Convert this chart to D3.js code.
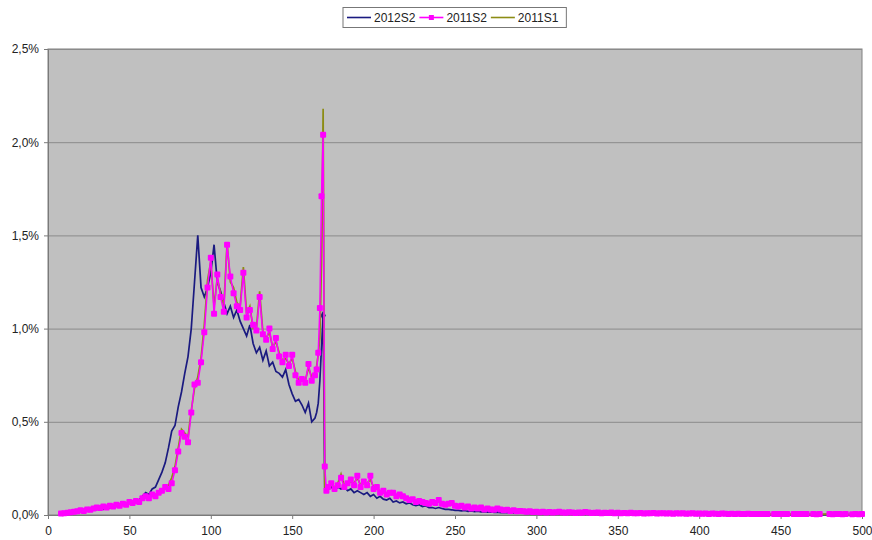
<!DOCTYPE html>
<html>
<head>
<meta charset="utf-8">
<script src="https://cdn.jsdelivr.net/npm/d3@7"></script>
<style>
  body { margin: 0; background: #fff; }
  svg { display: block; font-family: "Liberation Sans", Arial, sans-serif; }
</style>
</head>
<body>
<div id="chart"></div>
<script>
// x positions shared by all three series
const positions = [
  8, 10, 12, 14, 16, 18, 20, 22, 24, 26, 28, 30, 32, 34, 36, 38, 40, 42, 44, 46,
  48, 50, 52, 54, 56, 58, 60, 62, 64, 66, 68, 70, 72, 74, 76, 78, 80, 82, 84, 86,
  88, 90, 92, 94, 96, 98, 100, 102, 104, 106, 108, 110, 112, 114, 116, 118, 120, 122, 124, 126,
  128, 130, 132, 134, 136, 138, 140, 142, 144, 146, 148, 150, 152, 154, 156, 158, 160, 162, 164,
  165, 166, 167, 168, 169, 170, 171, 172,
  174, 176, 178, 180, 182, 184, 186, 188, 190, 192, 194, 196, 198, 200,
  202, 204, 206, 208, 210, 212, 214, 216, 218, 220, 222, 224, 226, 228, 230, 232, 234, 236, 238, 240, 242, 244, 246, 248, 250,
  252, 254, 256, 258, 260, 262, 264, 266, 268, 270, 272, 274, 276, 278, 280, 282, 284, 286, 288, 290, 292, 294, 296, 298, 300,
  302, 304, 306, 308, 310, 312, 314, 316, 318, 320, 322, 324, 326, 328, 330, 332, 334, 336, 338, 340, 342, 344, 346, 348, 350,
  352, 354, 356, 358, 360, 362, 364, 366, 368, 370, 372, 374, 376, 378, 380, 382, 384, 386, 388, 390, 392, 394, 396, 398, 400,
  402, 404, 406, 408, 410, 412, 414, 416, 418, 420, 422, 424, 426, 428, 430, 432, 434, 436, 438, 440, 442, 444, 446, 448, 450,
  452, 454, 456, 458, 460, 462, 464, 466, 468, 470, 472, 474, 476, 478, 480, 482, 484, 486, 488, 490, 492, 494, 496, 498, 500
];

// values in percent
const values2012S2 = [
  0.005, 0.008, 0.01, 0.012, 0.012, 0.015, 0.018, 0.02, 0.02, 0.025,
  0.028, 0.03, 0.035, 0.03, 0.04, 0.038, 0.045, 0.05, 0.06, 0.055,
  0.065, 0.06, 0.07, 0.065, 0.08, 0.1, 0.12, 0.11, 0.14, 0.15,
  0.19, 0.23, 0.28, 0.36, 0.45, 0.48, 0.58, 0.66, 0.76, 0.85,
  1.0, 1.25, 1.5, 1.22, 1.17, 1.22, 1.3, 1.45, 1.25, 1.2,
  1.14, 1.08, 1.12, 1.06, 1.1, 1.04, 1.0, 0.96, 1.02, 0.92,
  0.87, 0.9, 0.83, 0.88, 0.8, 0.82, 0.77, 0.76, 0.74, 0.78,
  0.7, 0.65, 0.61, 0.62, 0.59, 0.55, 0.6, 0.5, 0.52,
  0.55, 0.6, 0.72, 0.9, 1.07, 0.14, 0.13, 0.14,
  0.15, 0.13, 0.15, 0.14, 0.15, 0.13, 0.14, 0.12, 0.13, 0.12, 0.11, 0.12, 0.1, 0.11,
  0.09, 0.1, 0.085, 0.08, 0.09, 0.07, 0.075, 0.065, 0.07, 0.06, 0.065, 0.055, 0.05, 0.055, 0.045, 0.05, 0.04, 0.04, 0.035, 0.04, 0.035, 0.03, 0.03, 0.028, 0.025,
  0.025, 0.022, 0.024, 0.02, 0.022, 0.018, 0.02, 0.017, 0.018, 0.015, 0.016, 0.014, 0.015, 0.013, 0.014, 0.012, 0.012, 0.011, 0.012, 0.01, 0.01, 0.009, 0.01, 0.008, 0.009,
  0.008, 0.008, 0.007, 0.008, 0.007, 0.007, 0.006, 0.007, 0.006, 0.006, 0.006, 0.005, 0.006, 0.005, 0.005, 0.005, 0.005, 0.004, 0.005, 0.004, 0.004, 0.004, 0.004, 0.004, 0.003,
  0.004, 0.003, 0.004, 0.003, 0.003, 0.004, 0.003, 0.003, 0.003, 0.004, 0.003, 0.003, 0.003, 0.003, 0.004, 0.003, 0.003, 0.003, 0.003, 0.003, 0.002, 0.003, 0.003, 0.003, 0.002,
  0.003, 0.002, 0.003, 0.002, 0.003, 0.002, 0.002, 0.003, 0.002, 0.002, 0.002, 0.003, 0.002, 0.002, 0.002, 0.002, 0.002, 0.003, 0.002, 0.002, 0.002, 0.002, 0.002, 0.002, 0.002,
  0.002, 0.002, 0.002, 0.002, 0.002, 0.002, 0.001, 0.002, 0.002, 0.002, 0.002, 0.001, 0.002, 0.002, 0.002, 0.001, 0.002, 0.002, 0.001, 0.002, 0.002, 0.001, 0.002, 0.002, 0.001
];

const values2011S2 = [
  0.008, 0.01, 0.012, 0.015, 0.018, 0.02, 0.025, 0.022, 0.03, 0.028,
  0.035, 0.04, 0.038, 0.045, 0.04, 0.05, 0.045, 0.055, 0.05, 0.06,
  0.055, 0.07, 0.065, 0.075, 0.07, 0.09, 0.1, 0.09, 0.11, 0.1,
  0.12, 0.13, 0.15, 0.14, 0.17, 0.24, 0.34, 0.44, 0.42, 0.39,
  0.55, 0.7, 0.71, 0.82, 0.98, 1.22, 1.38, 1.08, 1.29, 1.17,
  1.09, 1.45, 1.28, 1.19, 1.12, 1.1, 1.3, 1.06, 1.1, 1.02,
  0.99, 1.17, 0.97, 0.94, 1.0, 0.89, 0.95, 0.85, 0.82, 0.86,
  0.8, 0.86, 0.75, 0.71, 0.73, 0.71, 0.81, 0.72, 0.75,
  0.78, 0.87, 1.11, 1.71, 2.04, 0.26, 0.13, 0.15,
  0.17, 0.14, 0.16, 0.2, 0.15, 0.17, 0.19, 0.16, 0.21, 0.15, 0.18, 0.16, 0.21, 0.14,
  0.15, 0.12, 0.13, 0.11, 0.12, 0.12, 0.1, 0.11, 0.1, 0.09, 0.08, 0.085, 0.07, 0.075, 0.07, 0.065, 0.06, 0.07, 0.065, 0.08, 0.06, 0.055, 0.06, 0.065, 0.05,
  0.045, 0.05, 0.04, 0.045, 0.035, 0.04, 0.035, 0.04, 0.03, 0.035, 0.03, 0.028, 0.035, 0.03, 0.025, 0.028, 0.022, 0.025, 0.02, 0.022, 0.02, 0.018, 0.02, 0.016, 0.018,
  0.015, 0.017, 0.014, 0.016, 0.013, 0.015, 0.018, 0.014, 0.012, 0.015, 0.013, 0.011, 0.014, 0.012, 0.016, 0.013, 0.011, 0.012, 0.014, 0.01, 0.012, 0.011, 0.013, 0.01, 0.012,
  0.01, 0.011, 0.009, 0.012, 0.01, 0.009, 0.011, 0.008, 0.01, 0.009, 0.011, 0.008, 0.009, 0.01, 0.008, 0.009, 0.007, 0.009, 0.008, 0.01, 0.007, 0.008, 0.009, 0.007, 0.008,
  0.007, 0.008, 0.006, 0.008, 0.007, 0.006, 0.008, 0.007, 0.006, 0.007, 0.006, 0.007, 0.005, 0.006, 0.007, 0.005, 0.006, 0.005, 0.006, 0.005, 0.006, null, 0.005, 0.006, 0.005,
  0.005, 0.006, null, 0.005, 0.005, 0.006, 0.005, 0.005, null, 0.005, 0.004, 0.005, null, null, 0.005, 0.004, 0.005, 0.005, 0.004, 0.005, null, 0.004, 0.005, 0.004, 0.005
];

const values2011S1 = [
  0.006, 0.01, 0.013, 0.014, 0.018, 0.022, 0.024, 0.024, 0.028, 0.03,
  0.033, 0.038, 0.04, 0.043, 0.042, 0.048, 0.047, 0.052, 0.053, 0.058,
  0.058, 0.066, 0.068, 0.072, 0.074, 0.085, 0.095, 0.095, 0.105, 0.11,
  0.12, 0.135, 0.15, 0.16, 0.2, 0.26, 0.36, 0.46, 0.44, 0.42,
  0.56, 0.68, 0.74, 0.84, 1.02, 1.26, 1.36, 1.12, 1.27, 1.19,
  1.12, 1.46, 1.25, 1.22, 1.14, 1.12, 1.33, 1.08, 1.12, 1.0,
  1.0, 1.2, 0.98, 0.95, 0.98, 0.9, 0.93, 0.87, 0.83, 0.84,
  0.81, 0.84, 0.77, 0.72, 0.72, 0.72, 0.79, 0.74, 0.76,
  0.8, 0.86, 0.95, 1.35, 2.18, 0.15, 0.14, 0.14,
  0.16, 0.15, 0.17, 0.22, 0.16, 0.16, 0.18, 0.17, 0.2, 0.16, 0.17, 0.17, 0.19, 0.15,
  0.14, 0.13, 0.12, 0.115, 0.12, 0.11, 0.105, 0.1, 0.1, 0.09, 0.085, 0.08, 0.075, 0.07, 0.07, 0.065, 0.065, 0.065, 0.065, 0.07, 0.06, 0.058, 0.058, 0.06, 0.052,
  0.048, 0.046, 0.043, 0.042, 0.038, 0.038, 0.036, 0.036, 0.033, 0.032, 0.03, 0.03, 0.031, 0.028, 0.026, 0.026, 0.024, 0.023, 0.021, 0.021, 0.02, 0.019, 0.018, 0.017, 0.017,
  0.015, 0.016, 0.014, 0.015, 0.014, 0.014, 0.016, 0.013, 0.013, 0.014, 0.012, 0.012, 0.013, 0.012, 0.014, 0.012, 0.011, 0.012, 0.012, 0.011, 0.011, 0.011, 0.012, 0.01, 0.011,
  0.01, 0.01, 0.009, 0.011, 0.01, 0.009, 0.01, 0.009, 0.009, 0.009, 0.01, 0.008, 0.009, 0.009, 0.008, 0.008, 0.008, 0.008, 0.008, 0.009, 0.007, 0.008, 0.008, 0.007, 0.008,
  0.007, 0.007, 0.007, 0.007, 0.007, 0.006, 0.007, 0.007, 0.006, 0.006, 0.006, 0.006, 0.006, 0.006, 0.006, 0.005, 0.006, 0.005, 0.005, 0.005, 0.005, 0.005, 0.005, 0.005, 0.005,
  0.005, 0.005, 0.005, 0.005, 0.005, 0.005, 0.004, 0.005, 0.005, 0.004, 0.005, 0.004, 0.004, 0.005, 0.004, 0.004, 0.004, 0.005, 0.004, 0.004, 0.004, 0.004, 0.004, 0.004, 0.004
];

const seriesNames = ['2012S2', '2011S2', '2011S1'];
const xTicks = [0, 50, 100, 150, 200, 250, 300, 350, 400, 450, 500];
const yTicks = [0, 0.5, 1, 1.5, 2, 2.5];

function drawChart() {
  const width = 872;
  const height = 540;
  const margin = { top: 49, right: 10, bottom: 25, left: 48 };
  const innerW = width - margin.left - margin.right;
  const innerH = height - margin.top - margin.bottom;

  const svg = d3.select('#chart')
    .append('svg')
    .attr('width', width)
    .attr('height', height);

  const x = d3.scaleLinear().domain([0, 500]).range([0, innerW]);
  const y = d3.scaleLinear().domain([0, 2.5]).range([innerH, 0]);

  const comma = d3.formatLocale({ decimal: ',', thousands: '.', grouping: [3], currency: ['', ''] });
  const pct = (d) => comma.format('.1f')(d) + '%';

  const g = svg.append('g').attr('transform', `translate(${margin.left},${margin.top})`);

  // plot area
  g.append('rect')
    .attr('width', innerW)
    .attr('height', innerH)
    .attr('fill', '#c0c0c0')
    .attr('stroke', '#808080')
    .attr('stroke-width', 1);

  // gridlines
  g.append('g')
    .call(d3.axisLeft(y).tickValues(yTicks).tickSize(-innerW).tickFormat(''))
    .call((s) => s.select('.domain').remove())
    .selectAll('line')
    .attr('stroke', '#8a8a8a');

  // axes
  const yAxis = g.append('g')
    .call(d3.axisLeft(y).tickValues(yTicks).tickSize(4).tickPadding(5).tickFormat(pct));
  const xAxis = g.append('g')
    .attr('transform', `translate(0,${innerH})`)
    .call(d3.axisBottom(x).tickValues(xTicks).tickSize(4).tickPadding(7));
  [xAxis, yAxis].forEach((a) => {
    a.select('.domain').attr('stroke', '#7a7a7a');
    a.selectAll('.tick line').attr('stroke', '#7a7a7a');
    a.selectAll('text').attr('font-size', 12).attr('fill', '#222')
      .attr('font-family', '"Liberation Sans", Arial, sans-serif');
  });

  const toPoints = (vals) => positions.map((p, i) => ({ x: p, v: vals[i] }));
  const data2012S2 = toPoints(values2012S2);
  const data2011S2 = toPoints(values2011S2);
  const data2011S1 = toPoints(values2011S1);

  const line = d3.line()
    .defined((d) => d.v != null)
    .x((d) => x(d.x))
    .y((d) => y(d.v));

  g.append('path')
    .datum(data2012S2)
    .attr('fill', 'none')
    .attr('stroke', '#1a1a80')
    .attr('stroke-width', 1.7)
    .attr('d', line);

  // the 2012S2 point before the drop shows a small marker
  g.append('path')
    .datum(data2012S2.find((d) => d.x === 169))
    .attr('d', d3.symbol(d3.symbolDiamond, 26))
    .attr('transform', (d) => `translate(${x(d.x)},${y(d.v)})`)
    .attr('fill', '#1a1a80');

  g.append('path')
    .datum(data2011S1)
    .attr('fill', 'none')
    .attr('stroke', '#8c8c14')
    .attr('stroke-width', 1.7)
    .attr('d', line);

  g.append('path')
    .datum(data2011S2)
    .attr('fill', 'none')
    .attr('stroke', '#ff00ff')
    .attr('stroke-width', 1.5)
    .attr('d', line);

  g.append('g')
    .selectAll('rect')
    .data(data2011S2.filter((d) => d.v != null))
    .enter()
    .append('rect')
    .attr('x', (d) => x(d.x) - 3)
    .attr('y', (d) => y(d.v) - 3)
    .attr('width', 6)
    .attr('height', 6)
    .attr('rx', 1)
    .attr('fill', '#ff00ff');

  // legend
  const colors = ['#1a1a80', '#ff00ff', '#8c8c14'];
  const legend = svg.append('g');
  const box = legend.append('rect')
    .attr('fill', '#fff')
    .attr('stroke', '#777')
    .attr('stroke-width', 1);
  let lx = 347;
  const ly = 17.5;
  seriesNames.forEach((name, i) => {
    legend.append('line')
      .attr('x1', lx).attr('x2', lx + 24)
      .attr('y1', ly).attr('y2', ly)
      .attr('stroke', colors[i])
      .attr('stroke-width', 1.6);
    if (i === 1) {
      legend.append('rect')
        .attr('x', lx + 12 - 2.5).attr('y', ly - 2.5)
        .attr('width', 5).attr('height', 5)
        .attr('fill', colors[i]);
    }
    const t = legend.append('text')
      .attr('x', lx + 27)
      .attr('y', ly)
      .attr('dy', '0.35em')
      .attr('font-size', 12)
      .attr('fill', '#222')
      .text(name);
    lx += 27 + t.node().getComputedTextLength() + 4;
  });
  box.attr('x', 343).attr('y', 7.5).attr('width', lx + 4 - 343).attr('height', 20);
}

document.addEventListener('DOMContentLoaded', drawChart);
</script>
</body>
</html>
